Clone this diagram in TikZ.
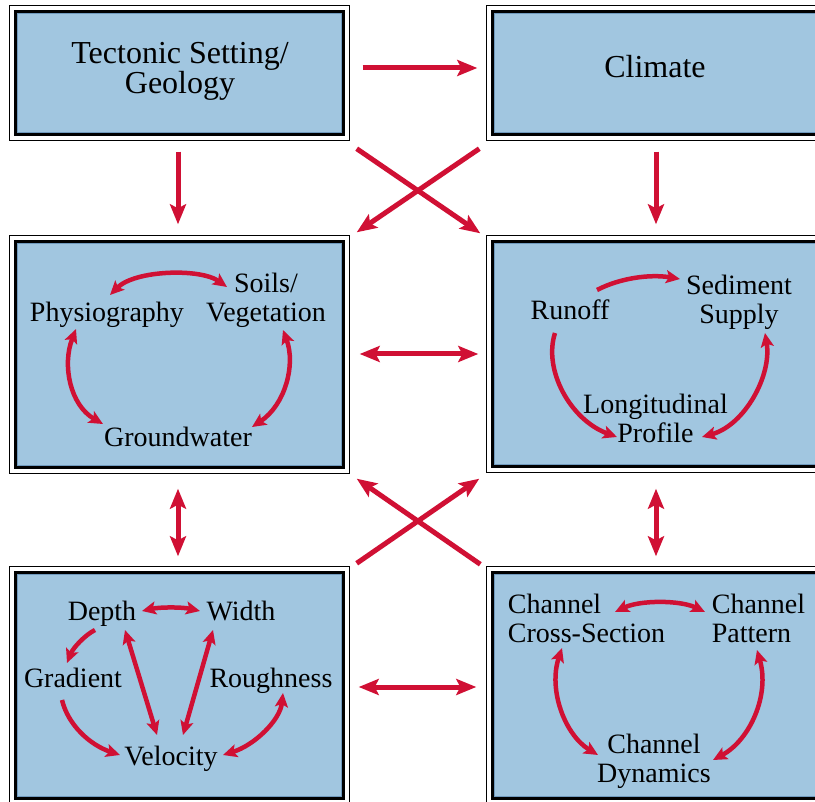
\documentclass[tikz,border=0pt]{standalone}
\usepackage{fontspec}
\setmainfont{Liberation Serif}
\usetikzlibrary{arrows.meta,calc}
\definecolor{linkred}{RGB}{208,16,52}
\definecolor{panelblue}{RGB}{161,198,224}
\definecolor{paneledge}{RGB}{112,154,190}

\tikzset{
  bigtip/.tip={Stealth[length=20pt,width=16pt,inset=4pt]},
  smalltip/.tip={Stealth[length=14pt,width=13pt,inset=3pt]},
}

\begin{document}
\begin{tikzpicture}[x=1pt,y=-1pt,
  panel/.style={rectangle, inner sep=0pt, draw=black, line width=3.4pt, fill=paneledge},
  txt/.style={inner sep=0pt, font=\fontsize{28}{29}\selectfont},
  toptxt/.style={inner sep=0pt, font=\fontsize{32}{28}\selectfont, align=center},
  flowarrow/.style={draw=linkred, line width=5pt},
  looparrow/.style={draw=linkred, line width=4.5pt},
]
\useasboundingbox (0,0) rectangle (815,802);
\fill[white] (0,0) rectangle (815,802);
\clip (0,0) rectangle (815,802);

% six framed panels
\node[panel, minimum width=328pt, minimum height=123pt] (tl) at (179.5,73) {};
\node[panel, minimum width=329pt, minimum height=123pt] (tr) at (657,73) {};
\node[panel, minimum width=328pt, minimum height=226pt] (ml) at (179.5,354.5) {};
\node[panel, minimum width=329pt, minimum height=225pt] (mr) at (657,354) {};
\node[panel, minimum width=328pt, minimum height=226pt] (bl) at (179.5,685.5) {};
\node[panel, minimum width=329pt, minimum height=226pt] (br) at (657,685.5) {};

\foreach \p in {tl,tr,ml,mr,bl,br}{
  \draw[line width=1.2pt] ([shift={(-4.5pt,4.5pt)}]\p.north west) rectangle ([shift={(4.5pt,-4.5pt)}]\p.south east);
  \fill[panelblue] ([shift={(4pt,-4pt)}]\p.north west) rectangle ([shift={(-4pt,4pt)}]\p.south east);
}

% panel titles
\node[toptxt] (tect) at (180,71.5) {Tectonic Setting/\\Geology};
\node[toptxt, anchor=base] (clim) at (655,78) {Climate};

% middle left
\node[txt, anchor=base] (phys) at (107,322) {Physiography};
\node[txt, align=center] (soil) at (266,300) {Soils/\\Vegetation};
\node[txt, anchor=base] (grnd) at (178,447) {Groundwater};

% middle right
\node[txt, anchor=base] (run) at (570,320) {Runoff};
\node[txt, align=center] (sed) at (739,302) {Sediment\\Supply};
\node[txt, align=center] (long) at (655.5,418) {Longitudinal\\Profile};

% bottom left
\node[txt, anchor=base] (dep) at (102,620) {Depth};
\node[txt, anchor=base] (wid) at (241,620) {Width};
\node[txt, anchor=base] (grad) at (73,687) {Gradient};
\node[txt, anchor=base] (rough) at (271,687) {Roughness};
\node[txt, anchor=base] (vel) at (171,765) {Velocity};

% bottom right
\node[txt, align=left] (cxs) at (586.5,618) {Channel\\Cross-Section};
\node[txt, align=left] (cpat) at (758.5,618) {Channel\\Pattern};
\node[txt, align=center] (cdyn) at (654,761) {Channel\\Dynamics};

% links between panels
\draw[flowarrow, -bigtip] ($(tl.east)+(17.5,-5)$) -- ($(tr.west)+(-13.5,-5)$);
\draw[flowarrow, -bigtip] ($(tl.south)+(-1.5,15.5)$) -- ($(ml.north)+(-1.5,-15.5)$);
\draw[flowarrow, -bigtip] ($(tr.south)+(-1,15.5)$) -- ($(mr.north)+(-1,-15.5)$);
\draw[flowarrow, -bigtip] ($(tl.south east)+(11.5,12.5)$) -- ($(mr.north west)+(-10.5,-6.5)$);
\draw[flowarrow, -bigtip] ($(tr.south west)+(-11.5,12.5)$) -- ($(ml.north east)+(11.5,-7.5)$);
\draw[flowarrow, bigtip-bigtip] ($(ml.east)+(14.5,-0.5)$) -- ($(mr.west)+(-12.5,0)$);
\draw[flowarrow, bigtip-bigtip] ($(ml.south)+(-1.5,19.5)$) -- ($(bl.north)+(-1.5,-14.5)$);
\draw[flowarrow, bigtip-bigtip] ($(mr.south)+(-1,20.5)$) -- ($(br.north)+(-1,-14.5)$);
\draw[flowarrow, -bigtip] ($(bl.north east)+(11.5,-7.5)$) -- ($(mr.south west)+(-11.5,10.5)$);
\draw[flowarrow, -bigtip] ($(br.north west)+(-10.5,-6.5)$) -- ($(ml.south east)+(11.5,9.5)$);
\draw[flowarrow, bigtip-bigtip] ($(bl.east)+(13.5,1.5)$) -- ($(br.west)+(-14.5,1.5)$);

% loops inside the middle left panel
\draw[looparrow, smalltip-smalltip] ($(phys.base)+(3,-27)$) .. controls ($(phys.base)+(28,-52)$) and ($(soil.center)+(-66,-32)$) .. ($(soil.center)+(-39,-13)$);
\draw[looparrow, smalltip-smalltip] ($(phys.base)+(-31,7)$) .. controls ($(phys.base)+(-45,43)$) and ($(grnd.base)+(-108,-42)$) .. ($(grnd.base)+(-75,-23)$);
\draw[looparrow, smalltip-smalltip] ($(soil.center)+(17,30)$) .. controls ($(soil.center)+(30,65)$) and ($(grnd.base)+(107,-42)$) .. ($(grnd.base)+(74,-20)$);

% loops inside the middle right panel
\draw[looparrow, -smalltip] ($(run.base)+(27,-30)$) .. controls ($(run.base)+(50,-42)$) and ($(sed.center)+(-89,-28)$) .. ($(sed.center)+(-59,-23)$);
\draw[looparrow, -smalltip] ($(run.base)+(-15,13)$) .. controls ($(run.base)+(-27,50)$) and ($(long.center)+(-85,2)$) .. ($(long.center)+(-38.5,19)$);
\draw[looparrow, smalltip-smalltip] ($(sed.center)+(26,31)$) .. controls ($(sed.center)+(33,73)$) and ($(long.center)+(89.5,7)$) .. ($(long.center)+(46.5,19)$);

% arrows inside the bottom left panel
\draw[looparrow, smalltip-smalltip] ($(dep.base)+(40,-9)$) .. controls ($(dep.base)+(58,-13)$) and ($(wid.base)+(-59,-13)$) .. ($(wid.base)+(-41,-9)$);
\draw[looparrow, -smalltip] ($(dep.base)+(-7,10)$) .. controls ($(dep.base)+(-17,15)$) and ($(grad.base)+(0,-39)$) .. ($(grad.base)+(-6,-24)$);
\draw[looparrow, smalltip-smalltip] ($(dep.base)+(23,10)$) -- ($(vel.base)+(-14,-30)$);
\draw[looparrow, smalltip-smalltip] ($(wid.base)+(-28,10)$) -- ($(vel.base)+(12,-30)$);
\draw[looparrow, -smalltip] ($(grad.base)+(-11,13)$) .. controls ($(grad.base)+(-5,38)$) and ($(vel.base)+(-81,-20)$) .. ($(vel.base)+(-51,-10)$);
\draw[looparrow, smalltip-smalltip] ($(rough.base)+(12,6)$) .. controls ($(rough.base)+(9,33)$) and ($(vel.base)+(84,-20)$) .. ($(vel.base)+(52,-10)$);

% loops inside the bottom right panel
\draw[looparrow, smalltip-smalltip] ($(cxs.center)+(28.5,-6)$) .. controls ($(cxs.center)+(53.5,-18)$) and ($(cpat.center)+(-78.5,-18)$) .. ($(cpat.center)+(-53.5,-6)$);
\draw[looparrow, smalltip-smalltip] ($(cxs.center)+(-24.5,30)$) .. controls ($(cxs.center)+(-38.5,72)$) and ($(cdyn.center)+(-89,-26)$) .. ($(cdyn.center)+(-56,-6)$);
\draw[looparrow, smalltip-smalltip] ($(cpat.center)+(-1.5,32)$) .. controls ($(cpat.center)+(11.5,77)$) and ($(cdyn.center)+(96,-21)$) .. ($(cdyn.center)+(59,-1)$);
\end{tikzpicture}
\end{document}
